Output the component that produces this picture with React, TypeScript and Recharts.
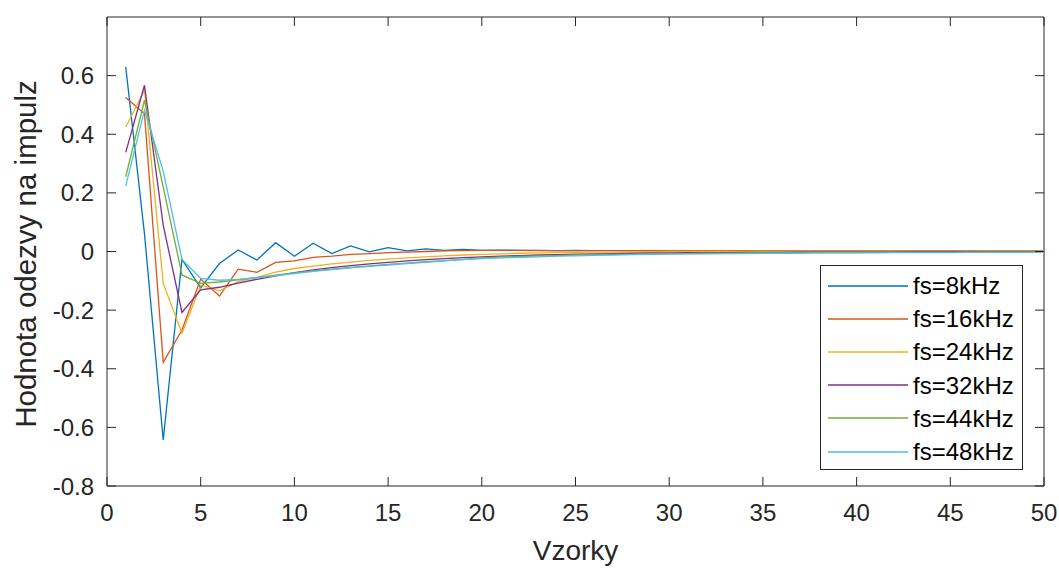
import React from 'react'
import { LineChart, Line, XAxis, YAxis, ReferenceLine, Label } from 'recharts';

const samples = [
  1, 2, 3, 4, 5, 6, 7, 8, 9, 10, 11, 12, 13, 14, 15, 16, 17, 18, 19, 20, 21, 22, 23, 24, 25,
  26, 27, 28, 29, 30, 31, 32, 33, 34, 35, 36, 37, 38, 39, 40, 41, 42, 43, 44, 45, 46, 47, 48, 49, 50,
];

const fs8 = [
  0.63, 0.06, -0.643, -0.027, -0.124, -0.041, 0.005, -0.029, 0.03, -0.016,
  0.028, -0.007, 0.019, -0.001, 0.013, 0.002, 0.009, 0.004, 0.007, 0.004,
  0.005, 0.004, 0.004, 0.003, 0.004, 0.003, 0.003, 0.003, 0.003, 0.003,
  0.003, 0.003, 0.003, 0.002, 0.003, 0.002, 0.002, 0.002, 0.002, 0.002,
  0.002, 0.002, 0.002, 0.002, 0.002, 0.002, 0.002, 0.002, 0.002, 0.002,
];
const fs16 = [
  0.525, 0.47, -0.378, -0.268, -0.094, -0.152, -0.06, -0.071, -0.037, -0.032,
  -0.02, -0.016, -0.01, -0.007, -0.004, -0.002, 0.0, 0.002, 0.003, 0.004,
  0.004, 0.004, 0.003, 0.003, 0.003, 0.003, 0.003, 0.003, 0.003, 0.003,
  0.003, 0.003, 0.003, 0.003, 0.003, 0.002, 0.002, 0.002, 0.002, 0.002,
  0.002, 0.002, 0.002, 0.002, 0.002, 0.002, 0.002, 0.002, 0.002, 0.002,
];
const fs24 = [
  0.425, 0.55, -0.109, -0.279, -0.115, -0.134, -0.103, -0.088, -0.07, -0.058,
  -0.05, -0.042, -0.036, -0.03, -0.026, -0.022, -0.018, -0.015, -0.012, -0.01,
  -0.008, -0.006, -0.005, -0.004, -0.003, -0.002, -0.002, -0.001, -0.001, 0.0,
  0.0, 0.0, 0.0, 0.0, 0.001, 0.001, 0.001, 0.001, 0.001, 0.001,
  0.001, 0.001, 0.001, 0.001, 0.001, 0.001, 0.001, 0.001, 0.001, 0.001,
];
const fs32 = [
  0.338, 0.567, 0.09, -0.208, -0.131, -0.122, -0.108, -0.095, -0.083, -0.072,
  -0.063, -0.055, -0.048, -0.042, -0.037, -0.032, -0.028, -0.024, -0.021, -0.018,
  -0.016, -0.014, -0.012, -0.011, -0.009, -0.008, -0.007, -0.006, -0.005, -0.005,
  -0.004, -0.004, -0.004, -0.003, -0.003, -0.003, -0.002, -0.002, -0.002, -0.002,
  -0.002, -0.002, -0.001, -0.001, -0.001, -0.001, -0.001, -0.001, -0.001, -0.001,
];
const fs44 = [
  0.255, 0.516, 0.22, -0.08, -0.109, -0.104, -0.097, -0.089, -0.081, -0.073,
  -0.066, -0.06, -0.054, -0.049, -0.044, -0.04, -0.035, -0.031, -0.027, -0.022,
  -0.019, -0.017, -0.015, -0.014, -0.012, -0.011, -0.01, -0.009, -0.008, -0.007,
  -0.007, -0.006, -0.006, -0.005, -0.005, -0.005, -0.004, -0.004, -0.004, -0.004,
  -0.003, -0.003, -0.003, -0.003, -0.003, -0.003, -0.002, -0.002, -0.002, -0.002,
];
const fs48 = [
  0.224, 0.482, 0.274, -0.027, -0.092, -0.098, -0.095, -0.089, -0.082, -0.075,
  -0.068, -0.062, -0.056, -0.051, -0.046, -0.041, -0.037, -0.032, -0.028, -0.024,
  -0.022, -0.02, -0.018, -0.016, -0.015, -0.013, -0.012, -0.011, -0.01, -0.009,
  -0.008, -0.008, -0.007, -0.007, -0.006, -0.006, -0.006, -0.005, -0.005, -0.005,
  -0.005, -0.004, -0.004, -0.004, -0.004, -0.003, -0.003, -0.003, -0.003, -0.003,
];

const seriesNames = ['fs=8kHz', 'fs=16kHz', 'fs=24kHz', 'fs=32kHz', 'fs=44kHz', 'fs=48kHz'];
const seriesValues = [fs8, fs16, fs24, fs32, fs44, fs48];
const colors = ['#0072BD', '#D95319', '#EDB120', '#7E2F8E', '#77AC30', '#4DBEEE'];

const xTicks = [0, 5, 10, 15, 20, 25, 30, 35, 40, 45, 50];
const yTicks = [-0.8, -0.6, -0.4, -0.2, 0, 0.2, 0.4, 0.6];

const data = samples.map((n, i) => {
  const row: Record<string, number> = { n };
  seriesNames.forEach((name, s) => { row[name] = seriesValues[s][i]; });
  return row;
});

const W = 1059;
const H = 569;
const LEFT = 107;
const RIGHT = 1044;
const TOP = 17;
const BOTTOM = 486;
const TICK = 9;
const AXIS = '#262626';
const FONT = '"Liberation Sans", Arial, Helvetica, sans-serif';

const XTick = (props: any) => {
  const { x, payload } = props;
  return (
    <g>
      <line x1={x} y1={BOTTOM} x2={x} y2={BOTTOM - TICK} stroke={AXIS} />
      <line x1={x} y1={TOP} x2={x} y2={TOP + TICK} stroke={AXIS} />
      <text x={x} y={BOTTOM + 35} textAnchor="middle" fill={AXIS} fontSize={24} fontFamily={FONT}>
        {payload.value}
      </text>
    </g>
  );
};

const YTick = (props: any) => {
  const { y, payload } = props;
  const v = Math.round(payload.value * 10) / 10;
  return (
    <g>
      <line x1={LEFT} y1={y} x2={LEFT + TICK} y2={y} stroke={AXIS} />
      <line x1={RIGHT} y1={y} x2={RIGHT - TICK} y2={y} stroke={AXIS} />
      <text x={LEFT - 13} y={y + 8.5} textAnchor="end" fill={AXIS} fontSize={24} fontFamily={FONT}>
        {v === 0 ? '0' : v.toString()}
      </text>
    </g>
  );
};

const ChartLegend = () => (
  <div style={{
    position: 'absolute', left: 820, top: 265, width: 203, height: 205,
    border: `1px solid ${AXIS}`, background: '#fff', boxSizing: 'border-box', paddingTop: 3,
  }}>
    {seriesNames.map((name, i) => (
      <div key={name} style={{ height: 33.2, display: 'flex', alignItems: 'center' }}>
        <svg width={80} height={4} style={{ marginLeft: 7, display: 'block' }}>
          <line x1={0} y1={2} x2={80} y2={2} stroke={colors[i]} strokeWidth={1.5} />
        </svg>
        <span style={{ marginLeft: 5, fontFamily: FONT, fontSize: 24, color: '#000', lineHeight: '33px' }}>{name}</span>
      </div>
    ))}
  </div>
);

const App = () => {
  return (
    <div style={{ position: 'absolute', left: 0, top: 0, width: W, height: H, background: '#fff' }}>
      <LineChart width={W} height={H} data={data} margin={{ top: TOP, right: W - RIGHT, bottom: 0, left: 0 }}>
        <XAxis
          dataKey="n"
          type="number"
          domain={[0, 50]}
          ticks={xTicks}
          interval={0}
          height={H - BOTTOM}
          tickLine={false}
          tickSize={0}
          stroke={AXIS}
          tick={<XTick />}
          allowDataOverflow
        >
          <Label
            content={() => (
              <text x={(LEFT + RIGHT) / 2} y={560} textAnchor="middle" fill={AXIS} fontSize={28} fontFamily={FONT}>
                Vzorky
              </text>
            )}
          />
        </XAxis>
        <YAxis
          type="number"
          domain={[-0.8, 0.8]}
          ticks={yTicks}
          interval={0}
          width={LEFT}
          tickLine={false}
          tickSize={0}
          stroke={AXIS}
          tick={<YTick />}
          allowDataOverflow
        >
          <Label
            content={() => (
              <text
                x={25}
                y={254}
                transform="rotate(-90 25 254)"
                textAnchor="middle"
                dominantBaseline="central"
                fill={AXIS}
                fontSize={29.5}
                fontFamily={FONT}
              >
                Hodnota odezvy na impulz
              </text>
            )}
          />
        </YAxis>
        <ReferenceLine y={0.8} stroke={AXIS} strokeWidth={1} />
        <ReferenceLine x={50} stroke={AXIS} strokeWidth={1} />
        {seriesNames.map((name, i) => (
          <Line
            key={name}
            type="linear"
            dataKey={name}
            stroke={colors[i]}
            strokeWidth={1.3}
            dot={false}
            isAnimationActive={false}
          />
        ))}
      </LineChart>
      <ChartLegend />
    </div>
  );
};

export default App
